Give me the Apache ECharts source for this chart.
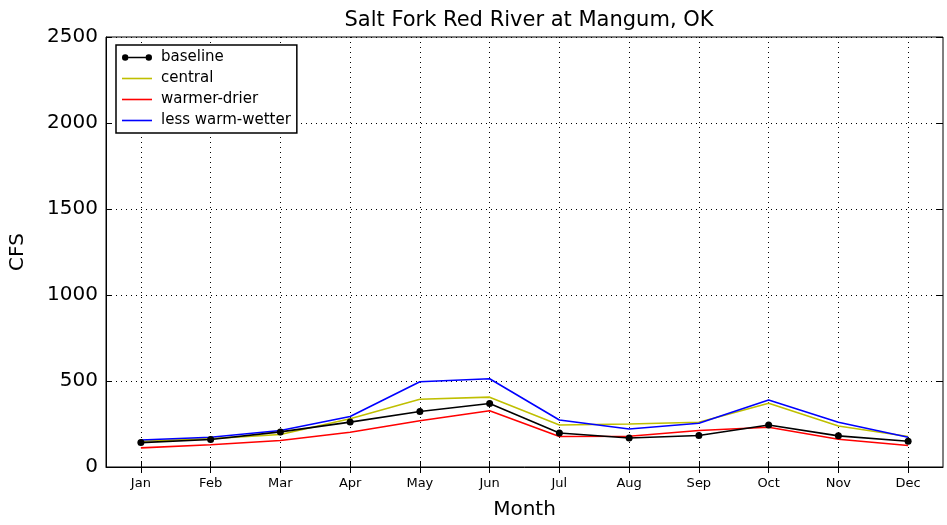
<!DOCTYPE html>
<html>
<head>
<meta charset="utf-8">
<script src="https://cdn.jsdelivr.net/npm/echarts@6/dist/echarts.min.js"></script>
<style>
  body { margin: 0; background: #fff; }
  #e1 { width: 947px; height: 525px; }
</style>
</head>
<body>
<div id="e1"></div>
<script>
  // 月份
  var months = ['Jan','Feb','Mar','Apr','May','Jun','Jul','Aug','Sep','Oct','Nov','Dec'];
  var yTicks = [0, 500, 1000, 1500, 2000, 2500];
  // 各情景流量 (CFS)
  var baseline = [142, 160, 204, 261, 323, 369, 198, 169, 183, 244, 181, 150];
  var central = [150, 165, 189, 281, 394, 406, 244, 250, 260, 371, 238, 177];
  var warmerDrier = [111, 129, 154, 202, 269, 327, 177, 179, 212, 231, 161, 125];
  var lessWarmWetter = [157, 173, 212, 294, 496, 513, 273, 221, 254, 390, 260, 173];

  var font = 'DejaVu Sans';
  // 图例图标
  var lineIcon = 'path://M0,0H30V1.6H0Z';
  var dotLineIcon = 'path://M0,6a3.2,3.2 0 1,0 6.4,0a3.2,3.2 0 1,0 -6.4,0ZM6.4,5.2H23.6V6.8H6.4ZM23.6,6a3.2,3.2 0 1,0 6.4,0a3.2,3.2 0 1,0 -6.4,0Z';

  var myChart = echarts.init(document.getElementById('e1'));
  var option = {
    animation: false,
    backgroundColor: '#fff',
    textStyle: { fontFamily: font, color: '#000' },
    title: {
      text: 'Salt Fork Red River at Mangum, OK',
      left: 524, top: 5, textAlign: 'center',
      textStyle: { fontFamily: font, fontSize: 21, fontWeight: 'normal', color: '#000' }
    },
    grid: { left: 105, right: 4, top: 37, bottom: 55, show: true, borderColor: '#000', borderWidth: 1 },
    legend: {
      orient: 'vertical',
      left: 116, top: 45,
      backgroundColor: '#fff',
      borderColor: '#000', borderWidth: 1.5, borderRadius: 0,
      padding: [5, 6, 5, 6],
      itemGap: 6, itemWidth: 30, itemHeight: 15,
      textStyle: { fontFamily: font, fontSize: 15, color: '#000', padding: [0, 0, 0, 4] },
      data: [
        { name: 'baseline', icon: dotLineIcon },
        { name: 'central', icon: lineIcon },
        { name: 'warmer-drier', icon: lineIcon },
        { name: 'less warm-wetter', icon: lineIcon }
      ]
    },
    xAxis: [{
      type: 'category',
      data: months,
      boundaryGap: true,
      name: 'Month', nameLocation: 'middle', nameGap: 33,
      nameTextStyle: { fontFamily: font, fontSize: 20, color: '#000' },
      axisLine: { show: true, lineStyle: { color: '#000' } },
      axisTick: { show: true, inside: true, alignWithLabel: true, length: 6, lineStyle: { color: '#000' } },
      axisLabel: { fontFamily: font, fontSize: 13, color: '#000', margin: 10 },
      splitLine: { show: true, alignWithLabel: true, lineStyle: { color: '#000', type: [1, 4], width: 1 } }
    }, {
      type: 'category',
      data: months,
      position: 'top',
      boundaryGap: true,
      axisLine: { show: false },
      axisTick: { show: true, inside: true, alignWithLabel: true, length: 6, lineStyle: { color: '#000' } },
      axisLabel: { show: false },
      splitLine: { show: false }
    }],
    yAxis: [{
      type: 'value',
      min: 0, max: 2500, interval: 500,
      name: 'CFS', nameLocation: 'middle', nameGap: 78,
      nameTextStyle: { fontFamily: font, fontSize: 20, color: '#000' },
      axisLine: { show: true, lineStyle: { color: '#000' } },
      axisTick: { show: true, inside: true, length: 6, lineStyle: { color: '#000' } },
      axisLabel: { fontFamily: font, fontSize: 20, color: '#000', margin: 8,
        formatter: function (v) { return yTicks.indexOf(v) >= 0 ? String(v) : ''; } },
      splitLine: { show: true, lineStyle: { color: '#000', type: [1, 4], width: 1 } }
    }, {
      type: 'value',
      min: 0, max: 2500, interval: 500,
      position: 'right',
      axisLine: { show: false },
      axisTick: { show: true, inside: true, length: 6, lineStyle: { color: '#000' } },
      axisLabel: { show: false },
      splitLine: { show: false }
    }],
    series: [
      { name: 'baseline', type: 'line', data: baseline, symbol: 'circle', symbolSize: 7,
        itemStyle: { color: '#000' }, lineStyle: { color: '#000', width: 1.6 }, z: 5 },
      { name: 'central', type: 'line', data: central, showSymbol: false, symbol: 'none',
        itemStyle: { color: '#bfbf00' }, lineStyle: { color: '#bfbf00', width: 1.6 } },
      { name: 'warmer-drier', type: 'line', data: warmerDrier, showSymbol: false, symbol: 'none',
        itemStyle: { color: '#ff0000' }, lineStyle: { color: '#ff0000', width: 1.6 } },
      { name: 'less warm-wetter', type: 'line', data: lessWarmWetter, showSymbol: false, symbol: 'none',
        itemStyle: { color: '#0000ff' }, lineStyle: { color: '#0000ff', width: 1.6 } }
    ]
  };
  myChart.setOption(option);
</script>
</body>
</html>
